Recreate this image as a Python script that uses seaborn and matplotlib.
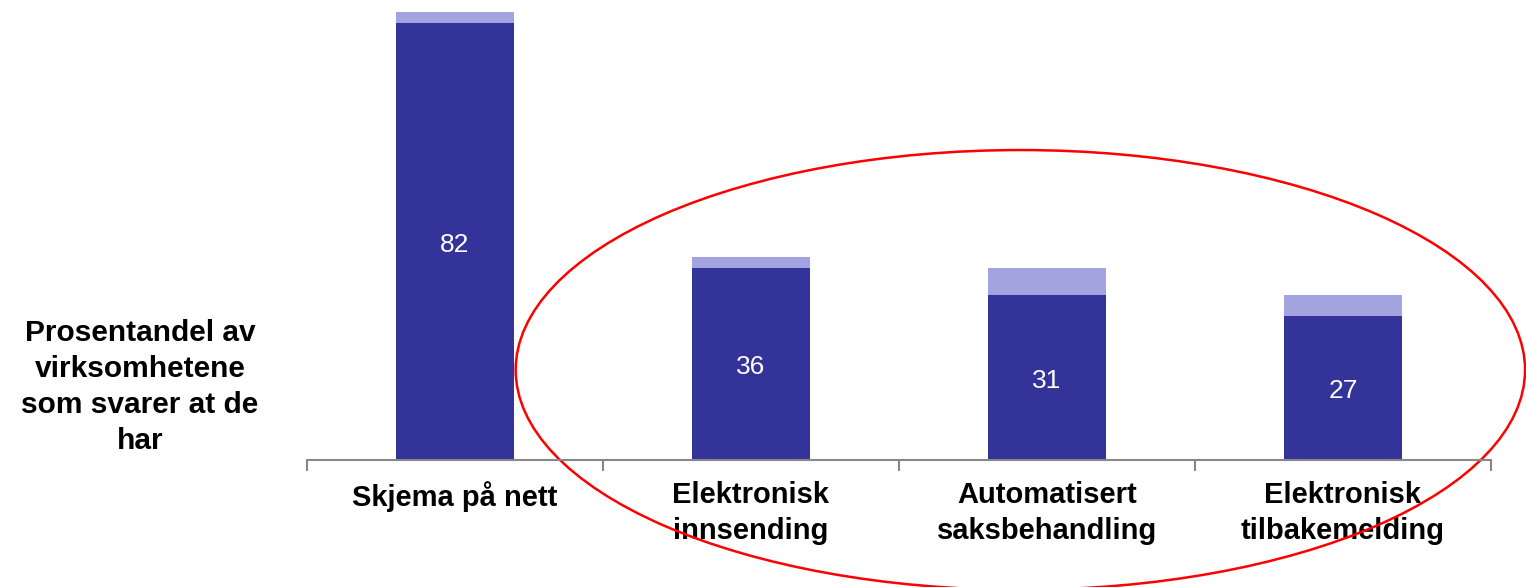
import seaborn as sns
import matplotlib.pyplot as plt
from matplotlib.patches import Ellipse
import pandas as pd

categories = ["Skjema på nett", "Elektronisk\ninnsending", "Automatisert\nsaksbehandling", "Elektronisk\ntilbakemelding"]
har = [82, 36, 31, 27]
planlegger = [2, 2, 5, 4]

dark = "#333399"
light = "#a3a3df"

df = pd.DataFrame({"kategori": categories, "har": har, "planlegger": planlegger})
df["total"] = df["har"] + df["planlegger"]

sns.set_style("white")
plt.rcParams['font.family'] = ['Liberation Sans', 'DejaVu Sans']
plt.rcParams['text.color'] = 'black'
plt.rcParams['xtick.color'] = 'black'

fig = plt.figure(figsize=(15.26, 5.87), dpi=100)
ax = fig.add_axes([307 / 1526, 127 / 587, 1184 / 1526, 460 / 587])

# stacked: total first (light), then the dark part on top of it
sns.barplot(data=df, x="kategori", y="total", color=light, width=0.4, saturation=1, linewidth=0, ax=ax)
sns.barplot(data=df, x="kategori", y="har", color=dark, width=0.4, saturation=1, linewidth=0, ax=ax)

for i, v in enumerate(har):
    ax.text(i, v / 2 - 0.6, str(v), ha="center", va="center", color="white", fontsize=19)

ax.set_xlim(-0.5, 3.5)
ax.set_ylim(0, 86.3)
ax.set_xlabel("")
ax.set_ylabel("")
ax.set_yticks([])
for s in ["top", "right", "left"]:
    ax.spines[s].set_visible(False)
ax.spines["bottom"].set_color("#888888")
ax.spines["bottom"].set_linewidth(1.5)

ax.set_xticks(range(len(categories)))
ax.set_xticklabels(categories, fontsize=21, fontweight="bold", linespacing=1.35, va="top", color="black")
ax.set_xticks([-0.5, 0.5, 1.5, 2.5, 3.5], minor=True)
ax.tick_params(axis="x", which="minor", bottom=True, length=8, color="#888888", width=1.5, direction="out")
ax.tick_params(axis="x", which="major", bottom=False, length=0, pad=15)

fig.text(140 / 1526, 1 - 387 / 587, "Prosentandel av\nvirksomhetene\nsom svarer at de\nhar",
         ha="center", va="center", fontsize=21.5, fontweight="bold", linespacing=1.35, color="black")

ring = Ellipse((1.91, 16.9), width=3.41, height=82.5, fill=False, edgecolor="red",
               linewidth=1.8, clip_on=False)
ax.add_patch(ring)

plt.savefig("out.png", dpi=100)
